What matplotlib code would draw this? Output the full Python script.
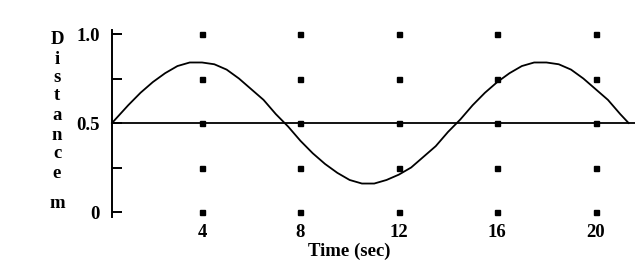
import matplotlib
matplotlib.use('Agg')
import matplotlib.pyplot as plt

# curve (time in s, distance in m)
time_s = [0.34, 1, 1.5, 2, 2.5, 3, 3.5, 4, 4.5, 5, 5.5, 6, 6.5, 7, 7.5, 8, 8.5, 9, 9.5, 10,
          10.5, 11, 11.5, 12, 12.5, 13, 13.5, 14, 14.5, 15, 15.5, 16, 16.5, 17, 17.5, 18,
          18.5, 19, 19.5, 20, 20.5, 21, 21.34]
distance = [0.50, 0.60, 0.67, 0.73, 0.78, 0.82, 0.84, 0.84, 0.83, 0.80, 0.75, 0.69, 0.63, 0.55,
            0.48, 0.40, 0.33, 0.27, 0.22, 0.18, 0.16, 0.16, 0.18, 0.21, 0.25, 0.31, 0.37,
            0.45, 0.52, 0.60, 0.67, 0.73, 0.78, 0.82, 0.84, 0.84, 0.83, 0.80, 0.75, 0.69,
            0.63, 0.55, 0.50]

# dotted grid
dot_x = [4, 8, 12, 16, 20]
dot_y = [0, 0.25, 0.5, 0.75, 1.0]

xtick_vals = [4, 8, 12, 16, 20]
xtick_labels = ['4', '8', '12', '16', '20']
ytick_vals = [0, 0.25, 0.5, 0.75, 1.0]
ytick_labels = ['0', '', '0.5', '', '1.0']
ylabel_letters = ['D', 'i', 's', 't', 'a', 'n', 'c', 'e', 'm']

W, H = 635, 268
plt.rcParams['font.family'] = ['Liberation Serif', 'DejaVu Serif']
plt.rcParams['font.weight'] = 'bold'
FS = 13.5

fig = plt.figure(figsize=(W / 100, H / 100), dpi=100)
ax = fig.add_axes([112 / W, (H - 217) / H, (W - 112) / W, (217 - 30) / H])
ax.set_xlim(0.34, 21.6)
ax.set_ylim(-0.028, 1.0225)

for s in ['top', 'right', 'bottom']:
    ax.spines[s].set_visible(False)
ax.spines['left'].set_linewidth(1.4)

# dots
gx = [x for x in dot_x for _ in dot_y]
gy = [y for _ in dot_x for y in dot_y]
ax.plot(gx, gy, linestyle='', marker='s', markersize=3.6, color='black', clip_on=False)

# centre line and curve
ax.axhline(0.5, color='black', linewidth=1.3)
ax.plot(time_s, distance, color='black', linewidth=1.3, clip_on=False)

ax.set_yticks(ytick_vals)
ax.set_yticklabels(ytick_labels, fontsize=FS, fontweight='bold')
ax.tick_params(axis='y', direction='in', length=7, width=1.4, pad=9)

ax.set_xticks(xtick_vals)
ax.set_xticklabels(xtick_labels, fontsize=FS, fontweight='bold')
ax.tick_params(axis='x', length=0, pad=5)

fig.text(349 / W, 1 - 251 / H, 'Time (sec)', ha='center', va='center',
         fontsize=FS, fontweight='bold')

letter_y = [40, 59, 77, 96, 116, 135, 154, 173, 203]
for ch, yp in zip(ylabel_letters, letter_y):
    fig.text(57 / W, 1 - yp / H, ch, ha='center', va='center',
             fontsize=FS, fontweight='bold')

fig.savefig('out.png', dpi=100)
